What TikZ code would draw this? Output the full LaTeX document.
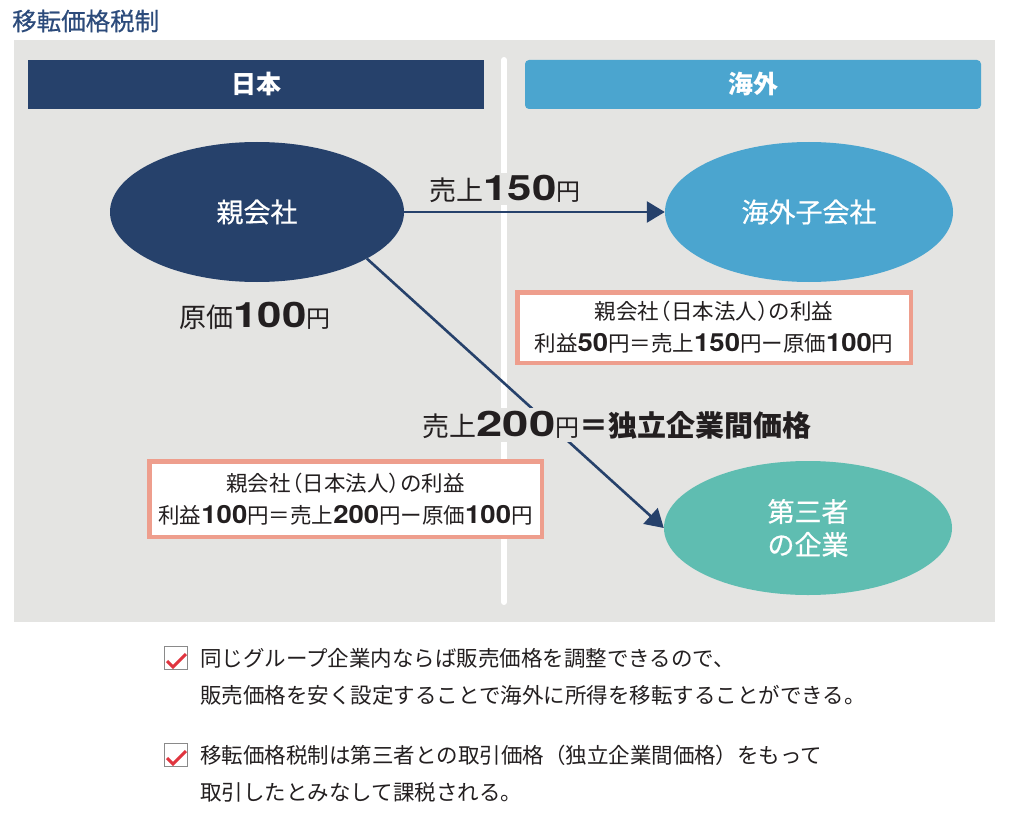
\documentclass[tikz,border=0pt]{standalone}
\usepackage{fontspec}
\setmainfont{Noto Sans CJK JP}
\newfontfamily\cjkmed{Noto Sans CJK JP}[FakeBold=0.6]
\newfontfamily\numw{TeX Gyre Heros}[FakeStretch=1.25]
\newfontfamily\numn{TeX Gyre Heros}[FakeStretch=1.1]
\usetikzlibrary{shapes.geometric,arrows.meta}
\definecolor{navy}{HTML}{26416B}
\definecolor{skyb}{HTML}{4BA5CF}
\definecolor{tealc}{HTML}{5FBDB1}
\definecolor{bggray}{HTML}{E4E4E2}
\definecolor{salmon}{HTML}{EE9E8D}
\definecolor{titleblue}{HTML}{2C4B7B}
\definecolor{checkred}{HTML}{E0353F}
\definecolor{txt}{HTML}{231F20}
\definecolor{boxgray}{HTML}{8A8A8A}
\newcommand\fs[1]{\fontsize{#1}{#1}\selectfont}
\newcommand\bn[2]{{\fs{#1}\numw\bfseries #2}}
\newcommand\sn[2]{{\fs{#1}\numn\bfseries #2}}
\tikzset{
  header/.style={minimum width=456, minimum height=49, inner sep=0, text=white, font=\fs{25}\bfseries},
  company/.style={ellipse, inner sep=0, text=white, font=\cjkmed\fontsize{27}{33}\selectfont, align=center},
  arr/.style={draw=navy, line width=2.6, -{Triangle[length=18pt,width=21pt]}},
  lbl/.style={fill=bggray, inner sep=2, text=txt},
  profit/.style={draw=salmon, line width=4.5, fill=white, inner sep=0, align=center, text=txt, font=\fontsize{21.5}{32}\selectfont},
  cbox/.style={draw=boxgray, line width=1.2, minimum size=23, inner sep=0},
  chk/.style={draw=checkred, line width=3},
  note/.style={anchor=west, inner sep=0, align=left, text=txt, font=\fontsize{21.5}{37}\selectfont}
}
\begin{document}
\begin{tikzpicture}[x=1pt,y=-1pt]
\useasboundingbox (0,0) rectangle (1011,813);
\fill[white] (0,0) rectangle (1011,813);
\node[anchor=west, inner sep=0, text=titleblue, font=\cjkmed\fs{24.5}] (title) at (12,21) {移転価格税制};
\fill[bggray] (14,40) rectangle (995,622);
\draw[white, line width=6, line cap=round] (504,60) -- (504,602);
\node[header, fill=navy] (jp) at (256,84.5) {日本};
\node[header, fill=skyb, rounded corners=4] (kaigai) at (753,84.5) {海外};
\node[company, fill=navy, minimum width=294, minimum height=140] (oya) at (257,212) {親会社};
\node[company, fill=skyb, minimum width=288, minimum height=140] (ko) at (809,212) {海外子会社};
\node[company, fill=tealc, minimum width=288, minimum height=134] (dai) at (808,528) {第三者\\の企業};
\draw[arr] (oya.east) -- (ko.west);
\draw[arr] (oya.-23) -- (dai.west);
\node[lbl] (l150) at (505,189) {{\fs{27}売上}\bn{35}{150}{\fs{24}円}};
\node[inner sep=0, text=txt] (genka) at (255,316) {{\fs{27}原価}\bn{35}{100}{\fs{24}円}};
\node[lbl, inner sep=3] (l200) at (617,425) {{\fs{27}売上}{\fs{35}\numw\bfseries\addfontfeature{FakeStretch=1.35}200}{\fs{24}円}{\fs{29}\bfseries ＝独立企業間価格}};
\node[profit, minimum width=393.5, minimum height=70.5] (box1) at (714,327.5)
  {親会社\kern-.45em（日本法人）\kern-.45em の利益\\
   利益\sn{25}{50}円＝売上\sn{25}{150}円ー原価\sn{25}{100}円};
\node[profit, minimum width=392.5, minimum height=75.5] (box2) at (345.5,499)
  {親会社\kern-.45em（日本法人）\kern-.45em の利益\\
   利益\sn{25}{100}円＝売上\sn{25}{200}円ー原価\sn{25}{100}円};
\node[cbox] (cb1) at (176,658) {};
\draw[chk] ([shift={(-9,3)}]cb1.center) -- ([shift={(-3,9)}]cb1.center) -- ([shift={(10,-4)}]cb1.center);
\node[cbox] (cb2) at (176,755) {};
\draw[chk] ([shift={(-9,3)}]cb2.center) -- ([shift={(-3,9)}]cb2.center) -- ([shift={(10,-4)}]cb2.center);
\node[note] (n1) at (200,676.5) {同じグループ企業内ならば販売価格を調整できるので、\\販売価格を安く設定することで海外に所得を移転することができる。};
\node[note] (n2) at (200,773.5) {移転価格税制は第三者との取引価格（独立企業間価格）をもって\\取引したとみなして課税される。};
\end{tikzpicture}
\end{document}
